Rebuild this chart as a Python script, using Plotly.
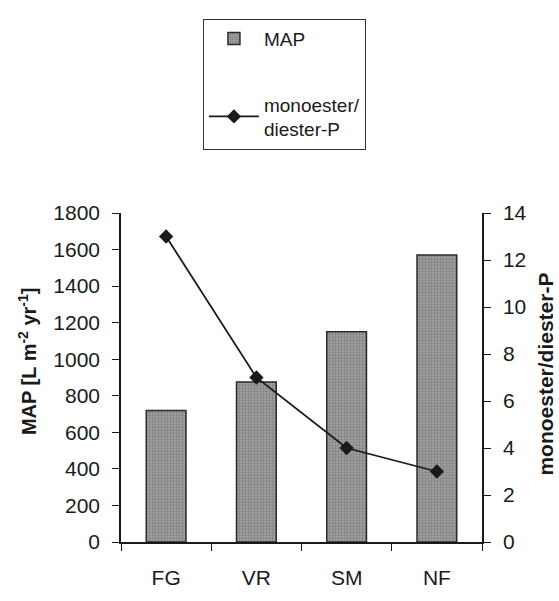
import plotly.graph_objects as go

categories = ["FG", "VR", "SM", "NF"]
map_values = [720, 875, 1150, 1570]
ratio_values = [13, 7, 4, 3]

FONT = "Liberation Sans, Arial, sans-serif"
INK = "#1a1a1a"

fig = go.Figure()
fig.add_trace(go.Bar(
    x=categories, y=map_values, name="MAP", width=0.44,
    marker=dict(color="#8c8c8c", line=dict(color="#2a2a2a", width=1.5),
                pattern=dict(shape=".", fgcolor="#5a5a5a", bgcolor="#a4a4a4", size=3, solidity=0.45)),
    legendgroup="a",
))
fig.add_trace(go.Scatter(
    x=categories, y=ratio_values, name="monoester/<br>diester-P", yaxis="y2",
    mode="lines+markers", line=dict(color=INK, width=1.8),
    marker=dict(symbol="diamond", size=11, color=INK),
    legendgroup="b",
))

fig.update_layout(
    width=559, height=601,
    margin=dict(l=121, r=77, t=213, b=48),
    paper_bgcolor="white", plot_bgcolor="white",
    font=dict(family=FONT, size=20, color=INK),
    showlegend=True,
    legend=dict(x=0.227, y=1.591, xanchor="left", yanchor="top",
                bordercolor="#333333", borderwidth=1, bgcolor="white",
                font=dict(size=19), tracegroupgap=38, itemwidth=50),
    xaxis=dict(showline=True, linecolor=INK, linewidth=1.5,
               ticks="outside", tickson="boundaries", ticklen=7, tickcolor=INK,
               showgrid=False, tickfont=dict(size=21), ticklabelstandoff=16),
    yaxis=dict(range=[0, 1800], dtick=200, showline=True, linecolor=INK, linewidth=1.5,
               ticks="outside", ticklen=7, tickcolor=INK, showgrid=False, zeroline=False,
               tickfont=dict(size=21), ticklabelstandoff=8),
    yaxis2=dict(range=[0, 14], dtick=2, overlaying="y", side="right", showline=True,
                linecolor=INK, linewidth=1.5, ticks="outside", ticklen=7, tickcolor=INK,
                showgrid=False, zeroline=False,
                tickfont=dict(size=21), ticklabelstandoff=8),
    annotations=[
        dict(text="<b>MAP [L m<sup>-2</sup> yr<sup>-1</sup>]</b>", textangle=-90,
             xref="paper", yref="paper", x=(27 - 121) / 361, y=(553 - 366) / 340,
             xanchor="center", yanchor="middle", showarrow=False, font=dict(size=20)),
        dict(text="<b>monoester/diester-P</b>", textangle=-90,
             xref="paper", yref="paper", x=(546 - 121) / 361, y=(553 - 380) / 340,
             xanchor="center", yanchor="middle", showarrow=False, font=dict(size=21)),
    ],
)

fig.write_html("out.html")
